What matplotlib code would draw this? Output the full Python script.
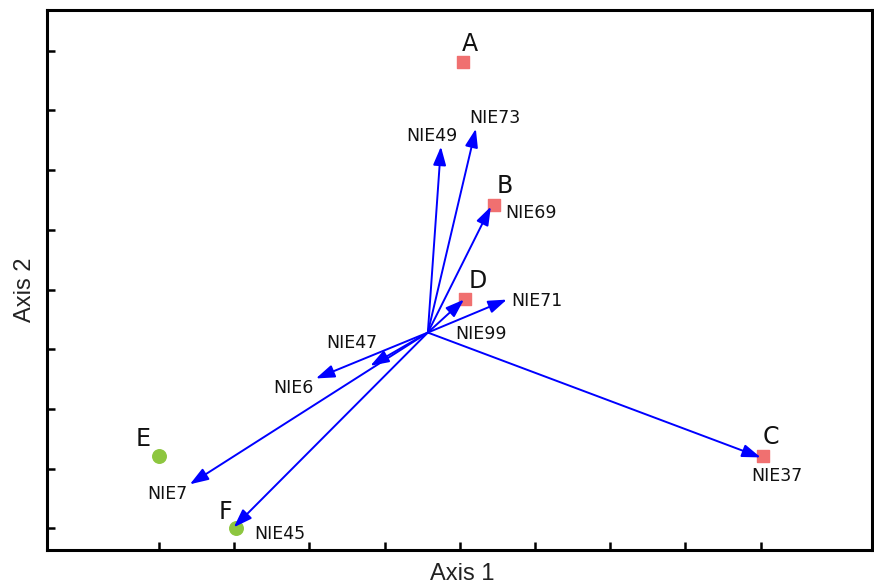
import matplotlib.pyplot as plt

# sites (squares / circles)
site_names = ["A", "B", "C", "D"]
site_x = [0.02, 0.226, 2.015, 0.033]
site_y = [1.906, 0.711, -1.396, -0.075]

grp2_names = ["E", "F"]
grp2_x = [-2.0, -1.489]
grp2_y = [-1.396, -1.998]

# vectors, all from one origin
origin = (-0.213, -0.36)
vec_names = ["NIE49", "NIE73", "NIE69", "NIE99", "NIE71", "NIE37",
             "NIE47", "NIE6", "NIE7", "NIE45"]
vec_x = [-0.126, 0.106, 0.206, 0.027, 0.312, 2.0, -0.595, -0.957, -1.795, -1.503]
vec_y = [1.196, 1.346, 0.694, -0.084, -0.084, -1.405, -0.638, -0.744, -1.63, -1.99]

# label positions (pixel coords of reference -> data)
def px(x, y):
    return ((x - 460) / 75.2 * 0.5, (290 - y) / 59.8 * 0.5)

site_lbl = {"A": (470, 44), "B": (505, 186), "C": (771, 438), "D": (478, 281),
            "E": (143, 440), "F": (226, 513)}
vec_lbl = {"NIE49": (432, 136), "NIE73": (495, 118), "NIE69": (531, 213),
           "NIE99": (481, 334), "NIE71": (537, 301), "NIE37": (777, 477),
           "NIE47": (352, 344), "NIE6": (294, 389), "NIE7": (168, 495),
           "NIE45": (280, 535)}

fig = plt.figure(figsize=(8.74, 5.87), dpi=100)
ax = fig.add_axes([47 / 874, 37 / 587, 825 / 874, 540 / 587])

for i in range(len(vec_names)):
    ax.annotate("", xy=(vec_x[i], vec_y[i]), xytext=origin,
                arrowprops=dict(arrowstyle="-|>,head_length=0.8,head_width=0.28",
                                color="#0000ff", lw=1.4, shrinkA=0, shrinkB=0,
                                mutation_scale=14))
    lx, ly = px(*vec_lbl[vec_names[i]])
    ax.text(lx, ly, vec_names[i], fontsize=12.5, ha="center", va="center",
            color="#111111")

ax.scatter(site_x, site_y, marker="s", s=80, color="#f07070", zorder=1)
ax.scatter(grp2_x, grp2_y, marker="o", s=95, color="#8dc63f", zorder=1)
for n in site_names + grp2_names:
    lx, ly = px(*site_lbl[n])
    ax.text(lx, ly, n, fontsize=17, ha="center", va="center", color="#111111")

ax.set_xlim(-2.745, 2.74)
ax.set_ylim(-2.18, 2.34)
ax.set_xticks([-2, -1.5, -1, -0.5, 0, 0.5, 1, 1.5, 2])
ax.set_yticks([-2, -1.5, -1, -0.5, 0, 0.5, 1, 1.5, 2])
ax.set_xticklabels([])
ax.set_yticklabels([])
ax.tick_params(direction="in", length=6, width=1.8)
for s in ax.spines.values():
    s.set_linewidth(2.2)

fig.text(462 / 874, 1 - 574 / 587, "Axis 1", fontsize=17, ha="center",
         va="center", family="Liberation Sans", color="#222222")
fig.text(25 / 874, 1 - 290 / 587, "Axis 2", fontsize=17, ha="center",
         va="center", rotation=90, family="Liberation Sans", color="#222222")

fig.savefig("out.png", dpi=100)
